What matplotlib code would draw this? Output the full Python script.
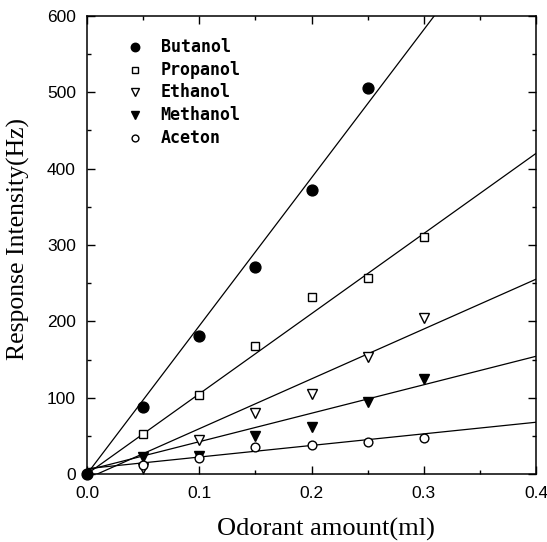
import matplotlib
matplotlib.use("Agg")
import matplotlib.pyplot as plt
import numpy as np
from matplotlib.ticker import MultipleLocator

# ---- data ----
x_vals = [0.05, 0.10, 0.15, 0.20, 0.25, 0.30]
butanol_x = [0.0, 0.05, 0.10, 0.15, 0.20, 0.25]
butanol_y = [0, 88, 181, 271, 372, 506]
propanol_y = [52, 103, 168, 232, 257, 311]
ethanol_y = [8, 45, 80, 105, 153, 204]
methanol_y = [22, 24, 50, 62, 94, 124]
aceton_y = [12, 21, 35, 38, 42, 47]

# fitted straight lines (slope, intercept)
butanol_fit = (1940.0, 0.0)
propanol_fit = (1050.0, 0.0)
ethanol_fit = (653.0, -6.0)
methanol_fit = (373.0, 5.0)
aceton_fit = (152.0, 7.0)

names = ["Butanol", "Propanol", "Ethanol", "Methanol", "Aceton"]
x_label = "Odorant amount(ml)"
y_label = "Response Intensity(Hz)"
x_ticks = [0.0, 0.1, 0.2, 0.3, 0.4]
x_tick_labels = ["0.0", "0.1", "0.2", "0.3", "0.4"]

W, H = 547, 542
fig = plt.figure(figsize=(W / 100, H / 100), dpi=100)
L, R, T, B = 87, 536, 16, 474
ax = fig.add_axes([L / W, (H - B) / H, (R - L) / W, (B - T) / H])

serif = "Liberation Serif"
sans = "Liberation Sans"

series = [
    (butanol_x, butanol_y, butanol_fit, dict(marker="o", mfc="black", mec="black", ms=7.8)),
    (x_vals, propanol_y, propanol_fit, dict(marker="s", mfc="white", mec="black", ms=5.8, mew=1.0)),
    (x_vals, ethanol_y, ethanol_fit, dict(marker="v", mfc="white", mec="black", ms=6.5, mew=1.0)),
    (x_vals, methanol_y, methanol_fit, dict(marker="v", mfc="black", mec="black", ms=6.5)),
    (x_vals, aceton_y, aceton_fit, dict(marker="o", mfc="white", mec="black", ms=6.3, mew=1.0)),
]

xline = np.array([0.0, 0.4])
for (xs, ys, fit, style) in series:
    ax.plot(xline, fit[0] * xline + fit[1], color="black", lw=0.9, zorder=2)
for (xs, ys, fit, style) in series:
    ax.plot(xs, ys, linestyle="none", zorder=3, clip_on=False, **style)

# legend drawn manually (no frame)
leg_y = [559, 529, 500, 470, 440]
for (xs, ys, fit, style), name, ly in zip(series, names, leg_y):
    st = dict(style)
    st["ms"] = st["ms"] * 0.78
    ax.plot([0.0425], [ly], linestyle="none", **st)
    ax.text(0.0655, ly, name, family="DejaVu Sans Mono", fontweight="bold",
            fontsize=12, va="center", ha="left")

ax.set_xlim(0, 0.4)
ax.set_ylim(0, 600)
ax.set_xticks(x_ticks)
ax.set_xticklabels(x_tick_labels)
ax.xaxis.set_minor_locator(MultipleLocator(0.05))
ax.yaxis.set_major_locator(MultipleLocator(100))
ax.yaxis.set_minor_locator(MultipleLocator(50))
ax.tick_params(which="both", direction="in", top=True, right=True, width=1.0)
ax.tick_params(which="major", length=6, labelsize=12.5)
ax.tick_params(axis="y", which="major", pad=8)
ax.tick_params(axis="x", which="major", pad=9)
ax.tick_params(which="minor", length=3)
for lab in ax.get_xticklabels() + ax.get_yticklabels():
    lab.set_family(sans)
for sp in ax.spines.values():
    sp.set_linewidth(1.1)

ax.set_xlabel(x_label, family=serif, fontsize=19)
ax.xaxis.set_label_coords((326 - L) / (R - L), (B - 529) / (B - T))
ax.xaxis.label.set_va("center")
ax.set_ylabel(y_label, family=serif, fontsize=18.5)
ax.yaxis.set_label_coords((18 - L) / (R - L), (B - 239) / (B - T))
ax.yaxis.label.set_va("center")

fig.savefig("out.png", dpi=100)
